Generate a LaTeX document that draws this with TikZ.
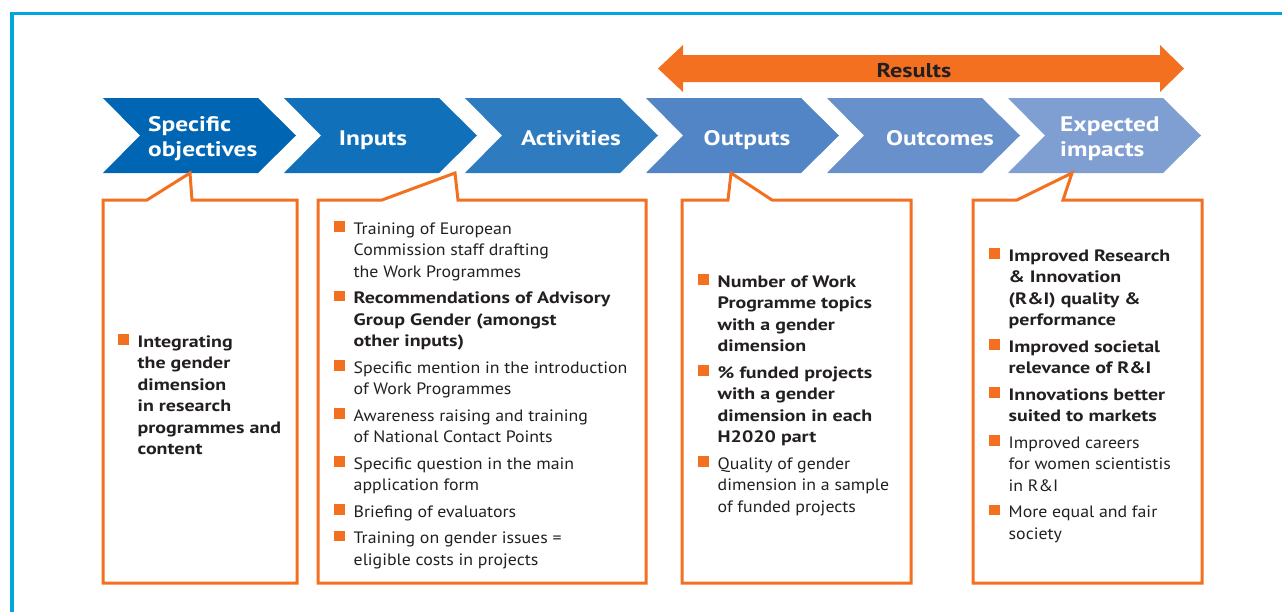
\documentclass[tikz,border=0pt]{standalone}
\usepackage{fontspec}
\setmainfont{PT Sans}[UprightFeatures={FakeStretch=1.08},BoldFeatures={FakeStretch=1.21}]
\definecolor{resorange}{RGB}{243,112,33}
\definecolor{frameblue}{RGB}{0,166,221}
\definecolor{textgray}{RGB}{35,31,32}
\definecolor{chevA}{RGB}{0,102,179}
\definecolor{chevB}{RGB}{17,112,186}
\definecolor{chevC}{RGB}{46,123,192}
\definecolor{chevD}{RGB}{82,133,197}
\definecolor{chevE}{RGB}{104,145,203}
\definecolor{chevF}{RGB}{127,159,210}
% orange square bullet with hanging lines
\newcommand{\bitem}[1]{\begingroup\par\hangindent=19.5pt\hangafter=1\noindent
  \makebox[19.5pt][l]{\textcolor{resorange}{\raisebox{2.5pt}{\rule{10.5pt}{10.5pt}}}}#1\par\endgroup}
\newcommand{\itemlist}[1]{\begin{minipage}[t]{330pt}\fontsize{16.5}{21.5}\selectfont\setlength{\parskip}{5pt}#1\end{minipage}}
\begin{document}
\begin{tikzpicture}[x=1pt,y=-1pt,
    chevlabel/.style={text=white,font=\fontsize{21}{24.5}\selectfont\bfseries,inner sep=0pt},
    callout/.style={draw=resorange,line width=3pt,line join=miter},
    itemtext/.style={text=textgray,inner sep=0pt,anchor=base west}]
  \clip (0,0) rectangle (1282,611);
  \draw[frameblue,line width=3.5pt] (12,630) -- (12,13.3) -- (1300,13.3);
  % chevrons
  \foreach \l/\c in {103/chevA,284/chevB,465/chevC,646/chevD,827/chevE,1008/chevF}
    \fill[\c] (\l,98) -- ++(155,0) -- ++(38,37.5) -- ++(-38,37.5) -- ++(-155,0) -- ++(37,-37.5) -- cycle;
  \node[chevlabel,text width=130pt,anchor=base west] (objectives) at (148,131.7) {Specific\\objectives};
  \node[chevlabel,anchor=base] (inputs) at (373,145) {Inputs};
  \node[chevlabel,anchor=base] (activities) at (571,145) {Activities};
  \node[chevlabel,anchor=base] (outputs) at (747,145) {Outputs};
  \node[chevlabel,anchor=base] (outcomes) at (940,145) {Outcomes};
  \node[chevlabel,text width=130pt,anchor=base west] (impacts) at (1060,131.7) {Expected\\impacts};
  % results arrow
  \fill[resorange] (658,68.5) -- (683,45) -- (683,55) -- (1160,55) -- (1160,45) -- (1184,68.5)
    -- (1160,92) -- (1160,82) -- (683,82) -- (683,92) -- cycle;
  \node[font=\fontsize{20}{24}\selectfont\bfseries,text=textgray,anchor=base,inner sep=0pt] (results) at (914,77.3) {Results};
  % callout boxes
  \draw[callout] (103,583) -- (103,200) -- (147,200) -- (190,173) -- (192,200) -- (297,200) -- (297,583) -- cycle;
  \draw[callout] (318,583) -- (318,200) -- (382,200) -- (455,173) -- (458,200) -- (646,200) -- (646,583) -- cycle;
  \draw[callout] (682,583) -- (682,200) -- (728,200) -- (731,173) -- (772,200) -- (911,200) -- (911,583) -- cycle;
  \draw[callout] (973,583) -- (973,200) -- (1017,200) -- (1072,173) -- (1063,200) -- (1202,200) -- (1202,583) -- cycle;
  \node[itemtext] (objtext) at (118,347) {\itemlist{%
    \bitem{\bfseries Integrating\\the gender\\dimension\\in research\\programmes and\\content}}};
  \node[itemtext] (inptext) at (334,234) {\itemlist{%
    \bitem{Training of European\\Commission staff drafting\\the Work Programmes}
    \bitem{\bfseries Recommendations of Advisory\\Group Gender (amongst\\other inputs)}
    \bitem{Specific mention in the introduction\\of Work Programmes}
    \bitem{Awareness raising and training\\of National Contact Points}
    \bitem{Specific question in the main\\application form}
    \bitem{Briefing of evaluators}
    \bitem{Training on gender issues =\\eligible costs in projects}}};
  \node[itemtext] (outtext) at (698,287) {\itemlist{%
    \bitem{\bfseries Number of Work\\Programme topics\\with a gender\\dimension}
    \bitem{\bfseries \% funded projects\\with a gender\\dimension in each\\H2020 part}
    \bitem{Quality of gender\\dimension in a sample\\of funded projects}}};
  \node[itemtext] (imptext) at (989,261) {\itemlist{%
    \bitem{\bfseries Improved Research\\\& Innovation\\(R\&I) quality \&\\performance}
    \bitem{\bfseries Improved societal\\relevance of R\&I}
    \bitem{\bfseries Innovations better\\suited to markets}
    \bitem{Improved careers\\for women scientistis\\in R\&I}
    \bitem{More equal and fair\\society}}};
\end{tikzpicture}
\end{document}
